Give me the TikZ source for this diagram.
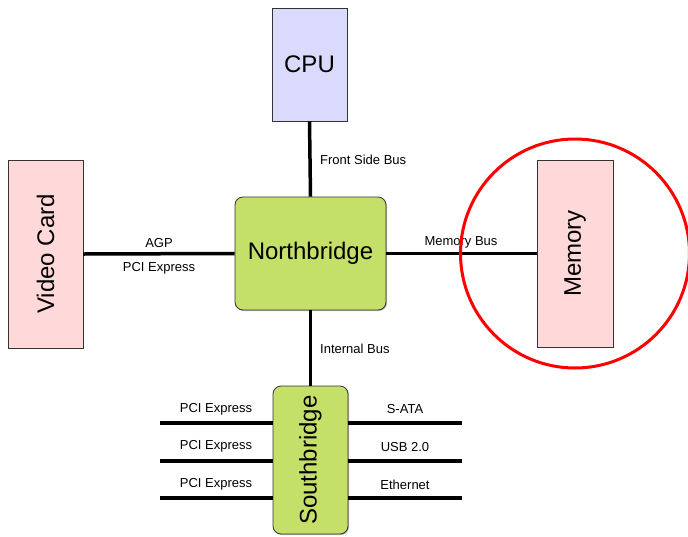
\documentclass[tikz,border=0pt]{standalone}
\usepackage{fontspec}
\setmainfont{Liberation Sans}
\usetikzlibrary{shadows}
\definecolor{cpufill}{HTML}{DADAFC}
\definecolor{pinkfill}{HTML}{FFD9DA}
\definecolor{bridgefill}{HTML}{C5E068}
\definecolor{boxline}{HTML}{333333}
\tikzset{
  unitbox/.style={draw=boxline, line width=0.8pt, inner sep=0pt,
    font=\fontsize{24}{26}\selectfont,
    drop shadow={shadow xshift=1pt, shadow yshift=-1pt, fill=black!45, opacity=0.6}},
  bridgebox/.style={unitbox, fill=bridgefill, rounded corners=8pt},
  bus/.style={line width=3.5pt},
  buslabel/.style={font=\fontsize{13}{15}\selectfont, inner sep=0pt},
  sidetext/.style={rotate=90, font=\fontsize{24}{26}\selectfont}
}
\begin{document}
\begin{tikzpicture}[x=1pt, y=1pt]
\useasboundingbox (0,0) rectangle (688,-536);
\fill[white] (0,0) rectangle (688,-536);

% components
\node[unitbox, fill=cpufill, minimum width=75pt, minimum height=113pt] (cpu) at (309.5,-64.5) {CPU};
\node[bridgebox, minimum width=151pt, minimum height=113pt] (nb) at (310.5,-253.5) {Northbridge};
\node[unitbox, fill=pinkfill, minimum width=75pt, minimum height=188pt] (vc) at (45.5,-254) {};
\node[sidetext] (vctext) at (vc.center) {Video Card};
\node[unitbox, fill=pinkfill, minimum width=76pt, minimum height=187pt] (mem) at (575,-253.5) {};
\node[sidetext] (memtext) at (mem.center) {Memory};
\node[bridgebox, minimum width=75pt, minimum height=148pt] (sb) at (310.5,-460) {};
\node[sidetext] (sbtext) at (sb.center) {Southbridge};

% buses to the northbridge
\draw[bus] (cpu.south) -- (nb.north);
\draw[bus] (vc.east) -- (nb.west);
\draw[bus] (nb.east) -- (mem.west);
\draw[bus] (nb.south) -- (sb.north);

\node[buslabel, anchor=west] (fsb) at (320,-160) {Front Side Bus};
\node[buslabel] (agp) at (159,-243) {AGP};
\node[buslabel] (pcie) at (159,-268) {PCI Express};
\node[buslabel] (membus) at (461,-242) {Memory Bus};
\node[buslabel, anchor=west] (ib) at (320,-349) {Internal Bus};

% southbridge peripheral buses
\coordinate (l1) at (160,-423);
\coordinate (l2) at (160,-461);
\coordinate (l3) at (160,-498);
\coordinate (r1) at (462,-423);
\coordinate (r2) at (462,-461);
\coordinate (r3) at (462,-498);
\foreach \p in {1,2,3}{
  \draw[bus] (l\p) -- (l\p -| sb.west);
  \draw[bus] (r\p -| sb.east) -- (r\p);
}
\node[buslabel] (pl1) at (216,-409) {PCI Express};
\node[buslabel] (pl2) at (216,-446) {PCI Express};
\node[buslabel] (pl3) at (216,-484) {PCI Express};
\node[buslabel] (sata) at (405,-409) {S-ATA};
\node[buslabel] (usb) at (405,-447) {USB 2.0};
\node[buslabel] (eth) at (405,-485) {Ethernet};

% highlight ring
\draw[red, line width=3pt] (575,-253.5) circle (114.5pt);
\end{tikzpicture}
\end{document}
